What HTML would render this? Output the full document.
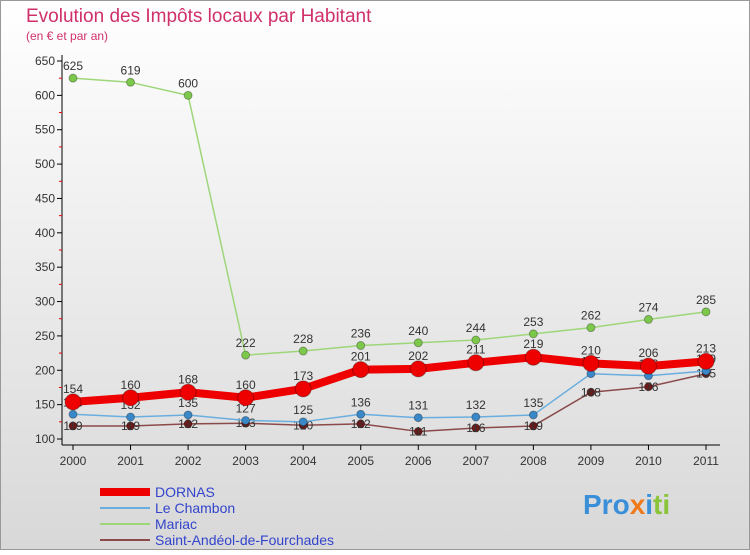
<!DOCTYPE html>
<html><head><meta charset="utf-8"><style>
body{margin:0;width:750px;height:550px;overflow:hidden;font-family:"Liberation Sans",sans-serif}
</style></head><body>
<svg width="750" height="550" xmlns="http://www.w3.org/2000/svg">
<defs><linearGradient id="bg" x1="0" y1="0" x2="0" y2="1"><stop offset="0" stop-color="#ffffff"/><stop offset="1" stop-color="#d8d8d8"/></linearGradient></defs>
<rect x="0.5" y="0.5" width="749" height="549" fill="url(#bg)" stroke="#999"/>
<text x="26" y="22" font-size="19" fill="#d0306a">Evolution des Impôts locaux par Habitant</text>
<text x="26" y="40" font-size="12" fill="#d0306a">(en € et par an)</text>
<g id="axes"></g><g id="series"></g><g id="legend"></g>
<text x="583" y="514" font-size="28" font-weight="bold" fill="#3a8fd8">Pro<tspan fill="#f07a1a">x</tspan><tspan fill="#3a8fd8">i</tspan><tspan fill="#8ac43a">ti</tspan></text>
</svg>
<script>
const years=[2000,2001,2002,2003,2004,2005,2006,2007,2008,2009,2010,2011];
const dornas=[154,160,168,160,173,201,202,211,219,210,206,213];
const chambon=[136,132,135,127,125,136,131,132,135,195,192,199];
const mariac=[625,619,600,222,228,236,240,244,253,262,274,285];
const andeol=[119,119,122,123,120,122,111,116,119,168,176,195];
const yTicks=[100,150,200,250,300,350,400,450,500,550,600,650];
const NS="http://www.w3.org/2000/svg";
const X=i=>73+i*(706-73)/11;
const Y=v=>439-(v-100)*(439-61)/550;
function mk(p,t,a){const e=document.createElementNS(NS,t);for(const k in a)e.setAttribute(k,a[k]);p.appendChild(e);return e;}
const ax=document.getElementById('axes');
let l=mk(ax,'line',{x1:62,y1:55,x2:62,y2:445,stroke:'#000'});


l=mk(ax,'line',{x1:62,y1:445,x2:720,y2:445,stroke:'#000'});


yTicks.forEach(v=>{
  const y=Y(v);
  mk(ax,'line',{x1:57,y1:y,x2:62,y2:y,stroke:'#000'});
  if(v<650)mk(ax,'line',{x1:59,y1:Y(v+25),x2:62,y2:Y(v+25),stroke:'#e00'});
  const t=mk(ax,'text',{x:55,y:y+4,'font-size':12,'text-anchor':'end',fill:'#333'});t.textContent=v;
  
  
});
years.forEach((yr,i)=>{
  mk(ax,'line',{x1:X(i),y1:445,x2:X(i),y2:450,stroke:'#000'});
  const t=mk(ax,'text',{x:X(i),y:465,'font-size':12,'text-anchor':'middle',fill:'#333'});t.textContent=yr;
  
  
});
const sg=document.getElementById('series');
function series(name,data,color,w,r,dot,lblOff){
  const g=mk(sg,'g',{});
  
  
  mk(g,'polyline',{points:data.map((v,i)=>X(i)+','+Y(v)).join(' '),fill:'none',stroke:color,'stroke-width':w,'stroke-linejoin':'round'});
  data.forEach((v,i)=>{
    const c=mk(g,'circle',{cx:X(i),cy:Y(v),r:r,fill:dot,stroke:'rgba(0,0,0,0.3)'});
    
    
    const t=mk(g,'text',{x:X(i),y:Y(v)+lblOff,'font-size':12,'text-anchor':'middle',fill:'#333'});t.textContent=v;
    
    
  });
}
series('mariac',mariac,'#9ed67a',1.5,4,'#7cc84a',-8);
series('andeol',andeol,'#8b4a4a',1.5,4,'#6b1a1a',4);
series('chambon',chambon,'#6aaedf',1.5,4,'#3a88c8',-8);
series('dornas',dornas,'#ee0000',8,8,'#ee0000',-9);
const lg=document.getElementById('legend');
[['DORNAS','#ee0000',8],['Le Chambon','#6aaedf',2],['Mariac','#9ed67a',2],['Saint-Andéol-de-Fourchades','#8b4a4a',2]].forEach((d,i)=>{
  const y=492+i*16;
  const g=mk(lg,'g',{});
  
  
  mk(g,'line',{x1:100,y1:y,x2:150,y2:y,stroke:d[1],'stroke-width':d[2]});
  const t=mk(g,'text',{x:155,y:y+5,'font-size':14,fill:'#3344cc'});t.textContent=d[0];
});
</script>
</body></html>
